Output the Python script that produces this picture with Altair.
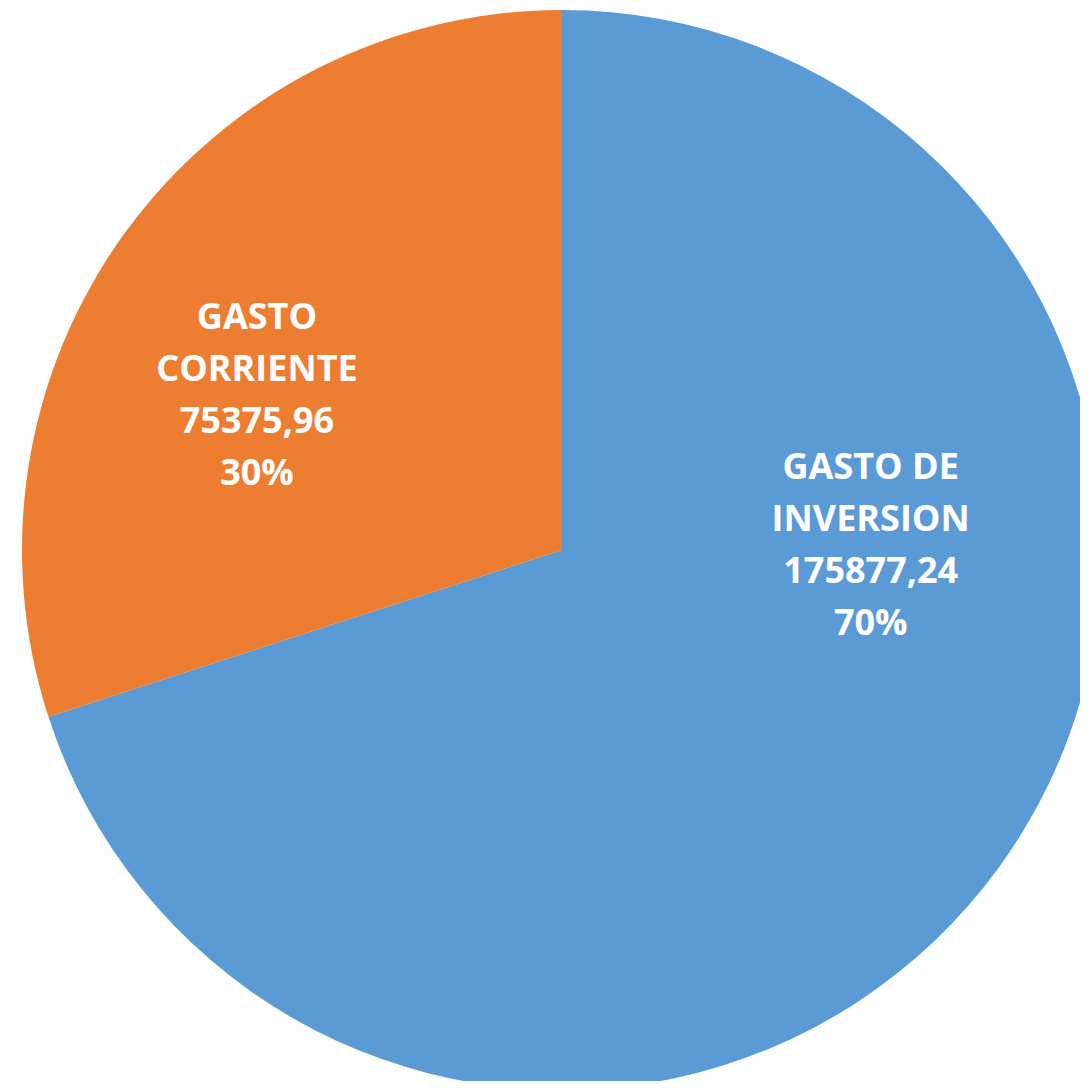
import altair as alt
import pandas as pd

categorias = ["GASTO DE INVERSION", "GASTO CORRIENTE"]
valores = [175877.24, 75375.96]
etiquetas = ["GASTO DE\nINVERSION\n175877,24\n70%", "GASTO\nCORRIENTE\n75375,96\n30%"]
orden = [1, 2]

df = pd.DataFrame({"cat": categorias, "val": valores, "lab": etiquetas, "ord": orden})

cx = alt.value(554)
cy = alt.value(542)

pie = alt.Chart(df).mark_arc(radius=540, stroke=None, clip=True).encode(
    theta=alt.Theta("val:Q", stack=True),
    order=alt.Order("ord:Q"),
    x=cx, y=cy,
    color=alt.Color("cat:N", scale=alt.Scale(domain=categorias, range=["#5B9BD5", "#ED7D31"]), legend=None),
)

lab_base = alt.Chart(df).transform_window(
    cum="sum(val)", sort=[alt.SortField("ord")]
).transform_calculate(
    mid="datum.cum - datum.val / 2"
)

txt_style = dict(font="Open Sans", fontWeight="bold", fontSize=36, color="white",
                 lineBreak="\n", lineHeight=52, align="center", baseline="middle")

def lab_layer(o, r, dx, dy):
    return lab_base.transform_filter(alt.datum.ord == o).mark_text(
        radius=r, dx=dx, dy=dy, **txt_style
    ).encode(
        theta=alt.Theta("mid:Q", stack=None),
        x=cx, y=cy,
        text="lab:N",
    )

lab_inv = lab_layer(1, 300, 66, -258)
lab_cor = lab_layer(2, 340, -30, -32)

chart = alt.layer(pie, lab_inv, lab_cor).properties(
    width=1072, height=1073, padding=0, background="#FDFDFD"
).configure_view(stroke=None)

chart.save("out.html", embed_options={"renderer": "svg", "actions": False})
